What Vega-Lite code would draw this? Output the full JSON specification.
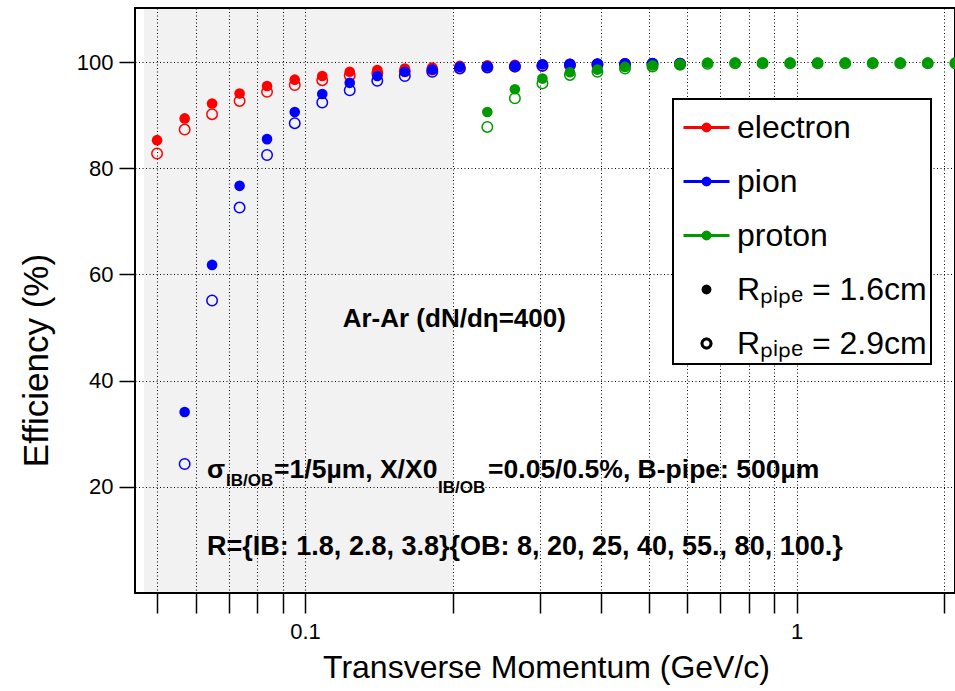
{
  "$schema": "https://vega.github.io/schema/vega-lite/v6.json",
  "width": 820,
  "height": 585,
  "autosize": {"type": "none"},
  "padding": {"left": 135, "top": 8, "right": 0, "bottom": 98},
  "background": "white",
  "data": {"values": [
    {"particle":"electron","pipe":"1.6","pt":0.05,"eff":85.3},
    {"particle":"electron","pipe":"1.6","pt":0.0569,"eff":89.4},
    {"particle":"electron","pipe":"1.6","pt":0.0647,"eff":92.2},
    {"particle":"electron","pipe":"1.6","pt":0.0736,"eff":94.1},
    {"particle":"electron","pipe":"1.6","pt":0.0837,"eff":95.5},
    {"particle":"electron","pipe":"1.6","pt":0.0953,"eff":96.7},
    {"particle":"electron","pipe":"1.6","pt":0.1084,"eff":97.4},
    {"particle":"electron","pipe":"1.6","pt":0.1233,"eff":98.2},
    {"particle":"electron","pipe":"1.6","pt":0.1403,"eff":98.5},
    {"particle":"electron","pipe":"1.6","pt":0.1596,"eff":98.8},
    {"particle":"electron","pipe":"1.6","pt":0.1815,"eff":99.0},
    {"particle":"electron","pipe":"1.6","pt":0.2065,"eff":99.3},
    {"particle":"electron","pipe":"1.6","pt":0.2349,"eff":99.4},
    {"particle":"electron","pipe":"1.6","pt":0.2673,"eff":99.5},
    {"particle":"electron","pipe":"1.6","pt":0.3041,"eff":99.6},
    {"particle":"electron","pipe":"1.6","pt":0.3459,"eff":99.7},
    {"particle":"electron","pipe":"1.6","pt":0.3935,"eff":99.7},
    {"particle":"electron","pipe":"1.6","pt":0.4477,"eff":99.8},
    {"particle":"electron","pipe":"1.6","pt":0.5093,"eff":99.8},
    {"particle":"electron","pipe":"1.6","pt":0.5794,"eff":99.8},
    {"particle":"electron","pipe":"2.9","pt":0.05,"eff":82.8},
    {"particle":"electron","pipe":"2.9","pt":0.0569,"eff":87.3},
    {"particle":"electron","pipe":"2.9","pt":0.0647,"eff":90.2},
    {"particle":"electron","pipe":"2.9","pt":0.0736,"eff":92.7},
    {"particle":"electron","pipe":"2.9","pt":0.0837,"eff":94.4},
    {"particle":"electron","pipe":"2.9","pt":0.0953,"eff":95.7},
    {"particle":"electron","pipe":"2.9","pt":0.1084,"eff":96.6},
    {"particle":"electron","pipe":"2.9","pt":0.1233,"eff":97.5},
    {"particle":"electron","pipe":"2.9","pt":0.1403,"eff":97.9},
    {"particle":"electron","pipe":"2.9","pt":0.1596,"eff":98.3},
    {"particle":"electron","pipe":"2.9","pt":0.1815,"eff":98.6},
    {"particle":"electron","pipe":"2.9","pt":0.2065,"eff":98.9},
    {"particle":"electron","pipe":"2.9","pt":0.2349,"eff":99.1},
    {"particle":"electron","pipe":"2.9","pt":0.2673,"eff":99.2},
    {"particle":"electron","pipe":"2.9","pt":0.3041,"eff":99.3},
    {"particle":"electron","pipe":"2.9","pt":0.3459,"eff":99.4},
    {"particle":"electron","pipe":"2.9","pt":0.3935,"eff":99.5},
    {"particle":"electron","pipe":"2.9","pt":0.4477,"eff":99.6},
    {"particle":"electron","pipe":"2.9","pt":0.5093,"eff":99.6},
    {"particle":"electron","pipe":"2.9","pt":0.5794,"eff":99.7},
    {"particle":"pion","pipe":"1.6","pt":0.0569,"eff":34.1},
    {"particle":"pion","pipe":"1.6","pt":0.0647,"eff":61.8},
    {"particle":"pion","pipe":"1.6","pt":0.0736,"eff":76.7},
    {"particle":"pion","pipe":"1.6","pt":0.0837,"eff":85.5},
    {"particle":"pion","pipe":"1.6","pt":0.0953,"eff":90.6},
    {"particle":"pion","pipe":"1.6","pt":0.1084,"eff":94.0},
    {"particle":"pion","pipe":"1.6","pt":0.1233,"eff":96.1},
    {"particle":"pion","pipe":"1.6","pt":0.1403,"eff":97.4},
    {"particle":"pion","pipe":"1.6","pt":0.1596,"eff":98.2},
    {"particle":"pion","pipe":"1.6","pt":0.1815,"eff":98.6},
    {"particle":"pion","pipe":"1.6","pt":0.2065,"eff":99.1},
    {"particle":"pion","pipe":"1.6","pt":0.2349,"eff":99.2},
    {"particle":"pion","pipe":"1.6","pt":0.2673,"eff":99.3},
    {"particle":"pion","pipe":"1.6","pt":0.3041,"eff":99.6},
    {"particle":"pion","pipe":"1.6","pt":0.3459,"eff":99.7},
    {"particle":"pion","pipe":"1.6","pt":0.3935,"eff":99.7},
    {"particle":"pion","pipe":"1.6","pt":0.4477,"eff":99.8},
    {"particle":"pion","pipe":"1.6","pt":0.5093,"eff":99.8},
    {"particle":"pion","pipe":"1.6","pt":0.5794,"eff":99.8},
    {"particle":"pion","pipe":"2.9","pt":0.0569,"eff":24.3},
    {"particle":"pion","pipe":"2.9","pt":0.0647,"eff":55.1},
    {"particle":"pion","pipe":"2.9","pt":0.0736,"eff":72.6},
    {"particle":"pion","pipe":"2.9","pt":0.0837,"eff":82.5},
    {"particle":"pion","pipe":"2.9","pt":0.0953,"eff":88.5},
    {"particle":"pion","pipe":"2.9","pt":0.1084,"eff":92.4},
    {"particle":"pion","pipe":"2.9","pt":0.1233,"eff":94.7},
    {"particle":"pion","pipe":"2.9","pt":0.1403,"eff":96.5},
    {"particle":"pion","pipe":"2.9","pt":0.1596,"eff":97.4},
    {"particle":"pion","pipe":"2.9","pt":0.1815,"eff":98.2},
    {"particle":"pion","pipe":"2.9","pt":0.2065,"eff":98.8},
    {"particle":"pion","pipe":"2.9","pt":0.2349,"eff":99.0},
    {"particle":"pion","pipe":"2.9","pt":0.2673,"eff":99.2},
    {"particle":"pion","pipe":"2.9","pt":0.3041,"eff":99.3},
    {"particle":"pion","pipe":"2.9","pt":0.3459,"eff":99.5},
    {"particle":"pion","pipe":"2.9","pt":0.3935,"eff":99.6},
    {"particle":"pion","pipe":"2.9","pt":0.4477,"eff":99.6},
    {"particle":"pion","pipe":"2.9","pt":0.5093,"eff":99.7},
    {"particle":"pion","pipe":"2.9","pt":0.5794,"eff":99.7},
    {"particle":"proton","pipe":"1.6","pt":0.2349,"eff":90.6},
    {"particle":"proton","pipe":"1.6","pt":0.2673,"eff":94.9},
    {"particle":"proton","pipe":"1.6","pt":0.3041,"eff":96.9},
    {"particle":"proton","pipe":"1.6","pt":0.3459,"eff":98.1},
    {"particle":"proton","pipe":"1.6","pt":0.3935,"eff":98.6},
    {"particle":"proton","pipe":"1.6","pt":0.4477,"eff":99.1},
    {"particle":"proton","pipe":"1.6","pt":0.5093,"eff":99.4},
    {"particle":"proton","pipe":"1.6","pt":0.5794,"eff":99.7},
    {"particle":"proton","pipe":"1.6","pt":0.6591,"eff":99.9},
    {"particle":"proton","pipe":"1.6","pt":0.7499,"eff":99.9},
    {"particle":"proton","pipe":"1.6","pt":0.8531,"eff":99.9},
    {"particle":"proton","pipe":"1.6","pt":0.9704,"eff":99.9},
    {"particle":"proton","pipe":"1.6","pt":1.104,"eff":99.9},
    {"particle":"proton","pipe":"1.6","pt":1.256,"eff":99.9},
    {"particle":"proton","pipe":"1.6","pt":1.4289,"eff":99.9},
    {"particle":"proton","pipe":"1.6","pt":1.6255,"eff":99.9},
    {"particle":"proton","pipe":"1.6","pt":1.8493,"eff":99.9},
    {"particle":"proton","pipe":"1.6","pt":2.1038,"eff":99.9},
    {"particle":"proton","pipe":"2.9","pt":0.2349,"eff":87.8},
    {"particle":"proton","pipe":"2.9","pt":0.2673,"eff":93.2},
    {"particle":"proton","pipe":"2.9","pt":0.3041,"eff":96.0},
    {"particle":"proton","pipe":"2.9","pt":0.3459,"eff":97.6},
    {"particle":"proton","pipe":"2.9","pt":0.3935,"eff":98.2},
    {"particle":"proton","pipe":"2.9","pt":0.4477,"eff":98.8},
    {"particle":"proton","pipe":"2.9","pt":0.5093,"eff":99.2},
    {"particle":"proton","pipe":"2.9","pt":0.5794,"eff":99.5},
    {"particle":"proton","pipe":"2.9","pt":0.6591,"eff":99.7},
    {"particle":"proton","pipe":"2.9","pt":0.7499,"eff":99.8},
    {"particle":"proton","pipe":"2.9","pt":0.8531,"eff":99.8},
    {"particle":"proton","pipe":"2.9","pt":0.9704,"eff":99.8},
    {"particle":"proton","pipe":"2.9","pt":1.104,"eff":99.8},
    {"particle":"proton","pipe":"2.9","pt":1.256,"eff":99.8},
    {"particle":"proton","pipe":"2.9","pt":1.4289,"eff":99.8},
    {"particle":"proton","pipe":"2.9","pt":1.6255,"eff":99.8},
    {"particle":"proton","pipe":"2.9","pt":1.8493,"eff":99.8},
    {"particle":"proton","pipe":"2.9","pt":2.1038,"eff":99.8}
  ]},
  "layer": [
    {
      "data": {"values": [{"lo": 0.047, "hi": 0.2}]},
      "mark": {"type": "rect", "color": "#000000", "opacity": 0.05},
      "encoding": {
        "x": {"field": "lo", "type": "quantitative"},
        "x2": {"field": "hi"}
      }
    },
    {
      "transform": [{"filter": "datum.particle === 'electron' && datum.pipe === '2.9'"}],
      "mark": {"type": "point", "shape": "circle", "filled": false, "size": 110, "strokeWidth": 1.5, "opacity": 1, "color": "#ff0000"},
      "encoding": {
        "x": {"field": "pt", "type": "quantitative"},
        "y": {"field": "eff", "type": "quantitative"}
      }
    },
    {
      "transform": [{"filter": "datum.particle === 'electron' && datum.pipe === '1.6'"}],
      "mark": {"type": "point", "shape": "circle", "filled": true, "size": 113, "strokeWidth": 0, "opacity": 1, "color": "#ff0000"},
      "encoding": {
        "x": {"field": "pt", "type": "quantitative",
          "scale": {"type": "log", "domain": [0.04509, 2.101], "nice": false},
          "axis": {
            "title": "Transverse Momentum (GeV/c)",
            "values": [0.05, 0.06, 0.07, 0.08, 0.09, 0.1, 0.2, 0.3, 0.4, 0.5, 0.6, 0.7, 0.8, 0.9, 1, 2],
            "labelExpr": "datum.value === 0.1 ? '0.1' : (datum.value === 1 ? '1' : '')",
            "labelFontSize": 22, "labelPadding": 8, "labelOverlap": false,
            "tickSize": 20,
            "encode": {"ticks": {"update": {"y2": {"signal": "(datum.value === 0.1 || datum.value === 1) ? 20 : 11"}}}},
            "grid": true,
            "titleFontSize": 32, "titleX": 411, "titleY": 84, "titleBaseline": "alphabetic", "titleAlign": "center"
          }},
        "y": {"field": "eff", "type": "quantitative",
          "scale": {"domain": [0, 110.2], "nice": false, "zero": false},
          "axis": {
            "title": "Efficiency (%)",
            "values": [20, 40, 60, 80, 100],
            "labelFontSize": 22, "labelPadding": 6,
            "tickSize": 16,
            "grid": true,
            "titleFontSize": 35, "titleAngle": -90, "titleX": -88, "titleY": 352, "titleBaseline": "alphabetic", "titleAlign": "center"
          }}
      }
    },
    {
      "transform": [{"filter": "datum.particle === 'pion' && datum.pipe === '2.9'"}],
      "mark": {"type": "point", "shape": "circle", "filled": false, "size": 110, "strokeWidth": 1.5, "opacity": 1, "color": "#0000ff"},
      "encoding": {
        "x": {"field": "pt", "type": "quantitative"},
        "y": {"field": "eff", "type": "quantitative"}
      }
    },
    {
      "transform": [{"filter": "datum.particle === 'pion' && datum.pipe === '1.6'"}],
      "mark": {"type": "point", "shape": "circle", "filled": true, "size": 113, "strokeWidth": 0, "opacity": 1, "color": "#0000ff"},
      "encoding": {
        "x": {"field": "pt", "type": "quantitative"},
        "y": {"field": "eff", "type": "quantitative"}
      }
    },
    {
      "transform": [{"filter": "datum.particle === 'proton' && datum.pipe === '2.9'"}],
      "mark": {"type": "point", "shape": "circle", "filled": false, "size": 110, "strokeWidth": 1.5, "opacity": 1, "color": "#009a00"},
      "encoding": {
        "x": {"field": "pt", "type": "quantitative"},
        "y": {"field": "eff", "type": "quantitative"}
      }
    },
    {
      "transform": [{"filter": "datum.particle === 'proton' && datum.pipe === '1.6'"}],
      "mark": {"type": "point", "shape": "circle", "filled": true, "size": 113, "strokeWidth": 0, "opacity": 1, "color": "#009a00"},
      "encoding": {
        "x": {"field": "pt", "type": "quantitative"},
        "y": {"field": "eff", "type": "quantitative"}
      }
    },
    {
      "data": {"values": [
        {"entry": "electron"}, {"entry": "pion"}, {"entry": "proton"}, {"entry": "Rₚᵢₚₑ = 1.6cm"}, {"entry": "Rₚᵢₚₑ = 2.9cm"}
      ]},
      "mark": {"type": "point", "filled": true, "opacity": 1, "clip": true},
      "encoding": {
        "x": {"datum": 0.01},
        "y": {"datum": -50},
        "fill": {"field": "entry", "type": "nominal",
          "scale": {"domain": ["electron", "pion", "proton", "Rₚᵢₚₑ = 1.6cm", "Rₚᵢₚₑ = 2.9cm"], "range": ["#ff0000", "#0000ff", "#009a00", "#000000", "#ffffff"]},
          "legend": {"title": null}},
        "stroke": {"field": "entry", "type": "nominal",
          "scale": {"domain": ["electron", "pion", "proton", "Rₚᵢₚₑ = 1.6cm", "Rₚᵢₚₑ = 2.9cm"], "range": ["#ff0000", "#0000ff", "#009a00", "#000000", "#000000"]},
          "legend": {"title": null}},
        "shape": {"field": "entry", "type": "nominal",
          "scale": {"domain": ["electron", "pion", "proton", "Rₚᵢₚₑ = 1.6cm", "Rₚᵢₚₑ = 2.9cm"], "range": [
            "M-1,0L1,0M0.15,0L0.13,0.075L0.075,0.13L0,0.15L-0.075,0.13L-0.13,0.075L-0.15,0L-0.13,-0.075L-0.075,-0.13L0,-0.15L0.075,-0.13L0.13,-0.075Z",
            "M-1,0L1,0M0.15,0L0.13,0.075L0.075,0.13L0,0.15L-0.075,0.13L-0.13,0.075L-0.15,0L-0.13,-0.075L-0.075,-0.13L0,-0.15L0.075,-0.13L0.13,-0.075Z",
            "M-1,0L1,0M0.15,0L0.13,0.075L0.075,0.13L0,0.15L-0.075,0.13L-0.13,0.075L-0.15,0L-0.13,-0.075L-0.075,-0.13L0,-0.15L0.075,-0.13L0.13,-0.075Z",
            "M0.15,0L0.13,0.075L0.075,0.13L0,0.15L-0.075,0.13L-0.13,0.075L-0.15,0L-0.13,-0.075L-0.075,-0.13L0,-0.15L0.075,-0.13L0.13,-0.075Z",
            "M0.2,0L0.173,0.1L0.1,0.173L0,0.2L-0.1,0.173L-0.173,0.1L-0.2,0L-0.173,-0.1L-0.1,-0.173L0,-0.2L0.1,-0.173L0.173,-0.1Z"]},
          "legend": {"title": null}},
        "strokeWidth": {"field": "entry", "type": "ordinal",
          "scale": {"domain": ["electron", "pion", "proton", "Rₚᵢₚₑ = 1.6cm", "Rₚᵢₚₑ = 2.9cm"], "range": [3, 3, 3, 2, 1.3]},
          "legend": {"title": null}}
      }
    },
    {
      "data": {"values": [{}]},
      "mark": {"type": "text", "text": "Ar-Ar (dN/dη=400)", "font": "Liberation Sans", "fontWeight": "bold", "fontSize": 26, "align": "left", "baseline": "alphabetic", "color": "#000000"},
      "encoding": {"x": {"datum": 0.1193}, "y": {"datum": 50.07}}
    },
    {
      "data": {"values": [{}]},
      "mark": {"type": "text", "text": "σ", "font": "Liberation Sans", "fontWeight": "bold", "fontSize": 26.5, "align": "left", "baseline": "alphabetic", "color": "#000000"},
      "encoding": {"x": {"datum": 0.0632}, "y": {"datum": 21.6}}
    },
    {
      "data": {"values": [{}]},
      "mark": {"type": "text", "text": "IB/OB", "font": "Liberation Sans", "fontWeight": "bold", "fontSize": 17, "align": "left", "baseline": "alphabetic", "dx": 19, "dy": 8, "color": "#000000"},
      "encoding": {"x": {"datum": 0.0632}, "y": {"datum": 21.6}}
    },
    {
      "data": {"values": [{}]},
      "mark": {"type": "text", "text": "=1/5µm, X/X0", "font": "Liberation Sans", "fontWeight": "bold", "fontSize": 26.5, "align": "left", "baseline": "alphabetic", "dx": 67, "color": "#000000"},
      "encoding": {"x": {"datum": 0.0632}, "y": {"datum": 21.6}}
    },
    {
      "data": {"values": [{}]},
      "mark": {"type": "text", "text": "IB/OB", "font": "Liberation Sans", "fontWeight": "bold", "fontSize": 17, "align": "left", "baseline": "alphabetic", "dx": 231, "dy": 15, "color": "#000000"},
      "encoding": {"x": {"datum": 0.0632}, "y": {"datum": 21.6}}
    },
    {
      "data": {"values": [{}]},
      "mark": {"type": "text", "text": "=0.05/0.5%, B-pipe: 500µm", "font": "Liberation Sans", "fontWeight": "bold", "fontSize": 26.5, "align": "left", "baseline": "alphabetic", "dx": 281, "color": "#000000"},
      "encoding": {"x": {"datum": 0.0632}, "y": {"datum": 21.6}}
    },
    {
      "data": {"values": [{}]},
      "mark": {"type": "text", "text": "R={IB: 1.8, 2.8, 3.8}{OB: 8, 20, 25, 40, 55., 80, 100.}", "font": "Liberation Sans", "fontWeight": "bold", "fontSize": 27, "align": "left", "baseline": "alphabetic", "color": "#000000"},
      "encoding": {"x": {"datum": 0.0632}, "y": {"datum": 7.1}}
    }
  ],
  "config": {
    "font": "Liberation Sans",
    "view": {"stroke": "#000000", "strokeWidth": 2},
    "axis": {
      "domain": false,
      "tickColor": "#000000", "tickWidth": 1.5,
      "labelColor": "#000000", "titleColor": "#000000",
      "labelFont": "Liberation Sans", "titleFont": "Liberation Sans", "titleFontWeight": "normal",
      "gridColor": "#000000", "gridDash": [1, 2.5], "gridWidth": 1
    },
    "legend": {
      "orient": "none", "legendX": 538, "legendY": 91,
      "padding": 4, "symbolOffset": 5, "symbolSize": 2116,
      "labelFont": "Liberation Sans", "labelFontSize": 32, "labelColor": "#000000",
      "labelOffset": 6, "labelLimit": 400, "rowPadding": 13,
      "strokeColor": "#000000", "fillColor": "#ffffff", "strokeWidth": 2
    }
  }
}
